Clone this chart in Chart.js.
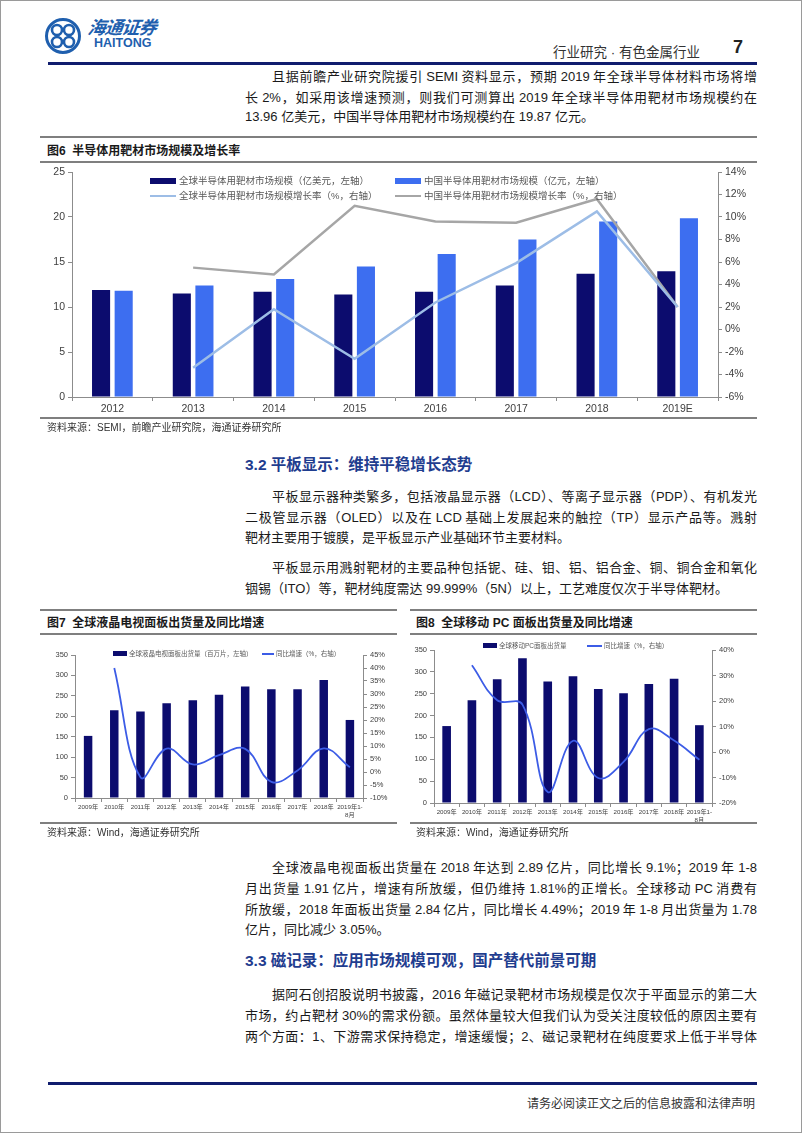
<!DOCTYPE html>
<html lang="zh-CN">
<head>
<meta charset="utf-8">
<script src="https://cdn.jsdelivr.net/npm/chart.js@4.4.0/dist/chart.umd.min.js"></script>
<style>
  body { margin: 0; background: #fff; font-family: "Liberation Sans", "Noto Sans CJK SC", sans-serif; color: #222; }
  #page { position: relative; width: 802px; height: 1133px; overflow: hidden; }
  #frame { position: absolute; left: 0; top: 0; width: 800px; height: 1131px; border: 1px solid #9a9a9a; }
  .abs { position: absolute; }
  .ln { position: absolute; left: 245px; width: 512px; height: 20px; line-height: 20px; font-size: 13px;
        word-spacing: -1px; text-align: justify; text-align-last: justify; color: #1a1a1a; }
  .ind { left: 272px; width: 485px; }
  .last { text-align-last: left; word-spacing: 0; }
  .h3 { position: absolute; left: 245px; font-size: 15.5px; font-weight: bold; color: #1f3d8f; line-height: 20px; }
  .rule { position: absolute; height: 2px; background: #7f7f7f; }
  .ctitle { position: absolute; font-size: 12px; font-weight: bold; color: #1a1a1a; line-height: 14px; }
  .src { position: absolute; font-size: 10px; color: #333; line-height: 12px; }
  .box { position: absolute; }
  .lg { position: absolute; white-space: nowrap; color: #595959; }
  .sw { position: absolute; }
</style>
</head>
<body>
<div id="page">
  <div id="frame"></div>

  <!-- header -->
  <svg class="abs" style="left:44px;top:17px" width="38" height="38" viewBox="0 0 38 38">
    <circle cx="19" cy="19" r="16.5" fill="none" stroke="#1f5fae" stroke-width="3"/>
    <circle cx="13" cy="13" r="5" fill="none" stroke="#1f5fae" stroke-width="2.6"/>
    <circle cx="25" cy="13" r="5" fill="none" stroke="#1f5fae" stroke-width="2.6"/>
    <circle cx="13" cy="25" r="5" fill="none" stroke="#1f5fae" stroke-width="2.6"/>
    <circle cx="25" cy="25" r="5" fill="none" stroke="#1f5fae" stroke-width="2.6"/>
  </svg>
  <div class="abs" style="left:88px;top:13px;font-size:18px;font-weight:bold;font-style:italic;color:#1f5fae;letter-spacing:-1px;transform:skewX(-8deg)">海通证券</div>
  <div class="abs" style="left:94px;top:36px;font-size:12.5px;font-weight:bold;color:#1f5fae">HAITONG</div>
  <div class="abs" style="left:553px;top:41px;font-size:13.5px;color:#333">行业研究 · 有色金属行业</div>
  <div class="abs" style="left:733px;top:37px;font-size:18px;font-weight:bold;color:#222">7</div>
  <div class="abs" style="left:48px;top:62px;width:709px;height:3px;background:#101d6e"></div>

  <!-- paragraph 1 -->
  <div class="ln ind" style="top:67px">且据前瞻产业研究院援引 SEMI 资料显示，预期 2019 年全球半导体材料市场将增</div>
  <div class="ln" style="top:88px">长 2%，如采用该增速预测，则我们可测算出 2019 年全球半导体用靶材市场规模约在</div>
  <div class="ln last" style="top:107px">13.96 亿美元，中国半导体用靶材市场规模约在 19.87 亿元。</div>

  <!-- figure 6 -->
  <div class="rule" style="left:40px;top:136px;width:717px"></div>
  <div class="ctitle" style="left:47px;top:144px">图6&nbsp;&nbsp;半导体用靶材市场规模及增长率</div>
  <div class="rule" style="left:40px;top:161px;width:717px"></div>
  <div class="box" style="left:40px;top:162px;width:720px;height:256px"><canvas id="c6"></canvas></div>
  <div class="sw" style="left:150px;top:178px;width:26px;height:6px;background:#0c0c6e"></div>
  <div class="lg" style="left:179px;top:175px;font-size:9.5px;line-height:12px">全球半导体用靶材市场规模（亿美元，左轴）</div>
  <div class="sw" style="left:395px;top:178px;width:26px;height:6px;background:#3d6ef0"></div>
  <div class="lg" style="left:424px;top:175px;font-size:9.5px;line-height:12px">中国半导体用靶材市场规模（亿元，左轴）</div>
  <div class="sw" style="left:150px;top:195px;width:26px;height:2px;background:#9dbde6"></div>
  <div class="lg" style="left:179px;top:190px;font-size:9.5px;line-height:12px">全球半导体用靶材市场规模增长率（%，右轴）</div>
  <div class="sw" style="left:395px;top:195px;width:26px;height:2px;background:#a6a6a6"></div>
  <div class="lg" style="left:424px;top:190px;font-size:9.5px;line-height:12px">中国半导体用靶材市场规模增长率（%，右轴）</div>
  <div class="rule" style="left:40px;top:417px;width:717px"></div>
  <div class="src" style="left:47px;top:422px">资料来源：SEMI，前瞻产业研究院，海通证券研究所</div>

  <!-- 3.2 -->
  <div class="h3" style="top:455px">3.2 平板显示：维持平稳增长态势</div>
  <div class="ln ind" style="top:487px">平板显示器种类繁多，包括液晶显示器（LCD）、等离子显示器（PDP）、有机发光</div>
  <div class="ln" style="top:508px">二极管显示器（OLED）以及在 LCD 基础上发展起来的触控（TP）显示产品等。溅射</div>
  <div class="ln last" style="top:528px">靶材主要用于镀膜，是平板显示产业基础环节主要材料。</div>
  <div class="ln ind" style="top:558px">平板显示用溅射靶材的主要品种包括铌、硅、钼、铝、铝合金、铜、铜合金和氧化</div>
  <div class="ln last" style="top:579px">铟锡（ITO）等，靶材纯度需达 99.999%（5N）以上，工艺难度仅次于半导体靶材。</div>

  <!-- figure 7 -->
  <div class="rule" style="left:40px;top:609px;width:357px"></div>
  <div class="ctitle" style="left:47px;top:616px">图7&nbsp;&nbsp;全球液晶电视面板出货量及同比增速</div>
  <div class="rule" style="left:40px;top:633px;width:357px"></div>
  <div class="box" style="left:40px;top:640px;width:355px;height:185px"><canvas id="c7"></canvas></div>
  <div class="sw" style="left:113px;top:651px;width:14px;height:5px;background:#0c0c6e"></div>
  <div class="lg" style="left:129px;top:649px;font-size:6.5px;line-height:9px">全球液晶电视面板出货量（百万片，左轴）</div>
  <div class="sw" style="left:262px;top:653px;width:12px;height:1.5px;background:#3c5ce6"></div>
  <div class="lg" style="left:276px;top:649px;font-size:6.5px;line-height:9px">同比增速（%，右轴）</div>
  <div class="rule" style="left:40px;top:822px;width:357px"></div>
  <div class="src" style="left:47px;top:827px">资料来源：Wind，海通证券研究所</div>

  <!-- figure 8 -->
  <div class="rule" style="left:410px;top:609px;width:347px"></div>
  <div class="ctitle" style="left:416px;top:616px">图8&nbsp;&nbsp;全球移动 PC 面板出货量及同比增速</div>
  <div class="rule" style="left:410px;top:633px;width:347px"></div>
  <div class="box" style="left:405px;top:636px;width:355px;height:190px"><canvas id="c8"></canvas></div>
  <div class="sw" style="left:483px;top:643px;width:14px;height:5px;background:#0c0c6e"></div>
  <div class="lg" style="left:499px;top:641px;font-size:6.5px;line-height:9px">全球移动PC面板出货量</div>
  <div class="sw" style="left:587px;top:645px;width:15px;height:1.5px;background:#3c5ce6"></div>
  <div class="lg" style="left:604px;top:641px;font-size:6.5px;line-height:9px">同比增速（%，右轴）</div>
  <div class="rule" style="left:410px;top:822px;width:347px"></div>
  <div class="src" style="left:416px;top:827px">资料来源：Wind，海通证券研究所</div>

  <!-- paragraph 4 -->
  <div class="ln ind" style="top:858px">全球液晶电视面板出货量在 2018 年达到 2.89 亿片，同比增长 9.1%；2019 年 1-8</div>
  <div class="ln" style="top:879px">月出货量 1.91 亿片，增速有所放缓，但仍维持 1.81%的正增长。全球移动 PC 消费有</div>
  <div class="ln" style="top:900px">所放缓，2018 年面板出货量 2.84 亿片，同比增长 4.49%；2019 年 1-8 月出货量为 1.78</div>
  <div class="ln last" style="top:920px">亿片，同比减少 3.05%。</div>

  <!-- 3.3 -->
  <div class="h3" style="top:951px">3.3 磁记录：应用市场规模可观，国产替代前景可期</div>
  <div class="ln ind" style="top:985px">据阿石创招股说明书披露，2016 年磁记录靶材市场规模是仅次于平面显示的第二大</div>
  <div class="ln" style="top:1006px">市场，约占靶材 30%的需求份额。虽然体量较大但我们认为受关注度较低的原因主要有</div>
  <div class="ln" style="top:1027px">两个方面：1、下游需求保持稳定，增速缓慢；2、磁记录靶材在纯度要求上低于半导体</div>

  <!-- footer -->
  <div class="abs" style="left:48px;top:1082px;width:709px;height:3px;background:#101d6e"></div>
  <div class="abs" style="left:527px;top:1094px;font-size:12px;color:#333">请务必阅读正文之后的信息披露和法律声明</div>
</div>

<script>
/* figure 6 data: target market size, global (USD 100m) and China (RMB 100m) */
const years6 = ['2012', '2013', '2014', '2015', '2016', '2017', '2018', '2019E'];
const globalSize = [11.9, 11.5, 11.7, 11.4, 11.7, 12.4, 13.7, 13.96];
const chinaSize = [11.8, 12.4, 13.1, 14.5, 15.9, 17.5, 19.5, 19.87];
const globalGrowth = [null, -3.4, 1.8, -2.6, 2.4, 5.9, 10.5, 2.0];
const chinaGrowth = [null, 5.5, 4.9, 11.0, 9.6, 9.5, 11.6, 2.0];

/* figure 7 and 8 data: panel shipments (million pcs) and yoy (%) */
const years78 = ['2009年', '2010年', '2011年', '2012年', '2013年', '2014年', '2015年',
  '2016年', '2017年', '2018年', ['2019年1-', '8月']];
const tvShip = [152, 215, 212, 232, 239, 253, 273, 266, 266, 289, 191];
const tvYoy = [null, 40.0, -2.0, 9.0, 2.9, 6.5, 8.9, -3.8, 0.6, 9.1, 1.81];
const pcShip = [176, 235, 283, 331, 278, 290, 261, 251, 272, 284, 178];
const pcYoy = [null, 34.0, 20.3, 18.6, -15.7, 4.4, -10.2, -3.9, 9.0, 4.49, -3.05];

Chart.defaults.font.family = '"Liberation Sans", "Noto Sans CJK SC", sans-serif';
Chart.defaults.color = '#404040';
Chart.defaults.animation = false;

const NAVY = '#0c0c6e';
const AXIS = '#8c8c8c';

// builds the scales; sizes fix the plot area so it lines up with the page
function axes(o) {
  const grid = { display: true, drawOnChartArea: false, drawTicks: true, tickLength: 4, color: AXIS };
  return {
    x: {
      grid: grid, border: { color: AXIS },
      ticks: { font: { size: o.xFont }, padding: 2, maxRotation: 0, autoSkip: false },
      afterFit: s => { s.height = o.xH; }
    },
    y: {
      min: o.yMin, max: o.yMax,
      grid: grid, border: { color: AXIS },
      ticks: { stepSize: o.yStep, font: { size: o.yFont }, padding: 3 },
      afterFit: s => { s.width = o.yW; }
    },
    y1: {
      position: 'right', min: o.rMin, max: o.rMax,
      grid: grid, border: { color: AXIS },
      ticks: { stepSize: o.rStep, font: { size: o.yFont }, padding: 3, callback: v => v + '%' },
      afterFit: s => { s.width = o.rW; }
    }
  };
}

const baseOpts = (top, scales) => ({
  responsive: true,
  maintainAspectRatio: false,
  layout: { padding: { top: top, left: 0, right: 0, bottom: 0 } },
  plugins: { legend: { display: false }, tooltip: { enabled: false } },
  scales: scales
});

new Chart(document.getElementById('c6'), {
  data: {
    labels: years6,
    datasets: [
      { type: 'line', data: globalGrowth, yAxisID: 'y1', borderColor: '#9dbde6', borderWidth: 2.5,
        pointRadius: 0, tension: 0, order: 0 },
      { type: 'line', data: chinaGrowth, yAxisID: 'y1', borderColor: '#a6a6a6', borderWidth: 2.5,
        pointRadius: 0, tension: 0, order: 0 },
      { type: 'bar', data: globalSize, yAxisID: 'y', backgroundColor: NAVY,
        categoryPercentage: 0.56, barPercentage: 0.8, order: 1 },
      { type: 'bar', data: chinaSize, yAxisID: 'y', backgroundColor: '#3d6ef0',
        categoryPercentage: 0.56, barPercentage: 0.8, order: 1 }
    ]
  },
  options: baseOpts(10, axes({ xFont: 10.5, xH: 21, yFont: 10.5, yMin: 0, yMax: 25, yStep: 5, yW: 32,
    rMin: -6, rMax: 14, rStep: 2, rW: 42 }))
});

new Chart(document.getElementById('c7'), {
  data: {
    labels: years78,
    datasets: [
      { type: 'line', data: tvYoy, yAxisID: 'y1', borderColor: '#3c5ce6', borderWidth: 1.8,
        pointRadius: 0, tension: 0.4, order: 0 },
      { type: 'bar', data: tvShip, yAxisID: 'y', backgroundColor: NAVY,
        categoryPercentage: 0.36, barPercentage: 0.9, order: 1 }
    ]
  },
  options: baseOpts(15, axes({ xFont: 6.2, xH: 27, yFont: 7.5, yMin: 0, yMax: 350, yStep: 50, yW: 35,
    rMin: -10, rMax: 45, rStep: 5, rW: 32 }))
});

new Chart(document.getElementById('c8'), {
  data: {
    labels: years78,
    datasets: [
      { type: 'line', data: pcYoy, yAxisID: 'y1', borderColor: '#3c5ce6', borderWidth: 1.8,
        pointRadius: 0, tension: 0.4, order: 0 },
      { type: 'bar', data: pcShip, yAxisID: 'y', backgroundColor: NAVY,
        categoryPercentage: 0.38, barPercentage: 0.9, order: 1 }
    ]
  },
  options: baseOpts(14, axes({ xFont: 6.2, xH: 23, yFont: 7.5, yMin: 0, yMax: 350, yStep: 50, yW: 29,
    rMin: -20, rMax: 40, rStep: 10, rW: 48 }))
});
</script>
</body>
</html>
